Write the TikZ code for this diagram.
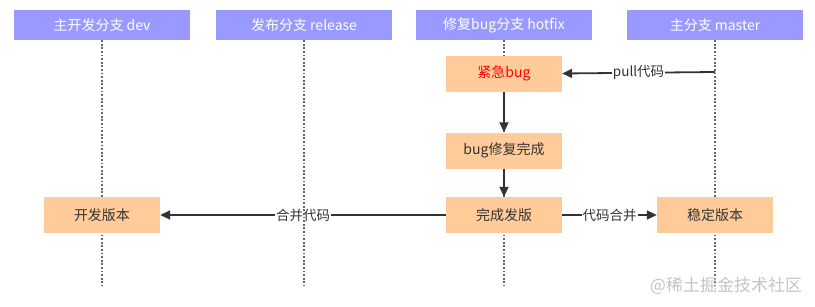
\documentclass[tikz,border=0pt]{standalone}
\usepackage{fontspec}
\setmainfont{Noto Sans CJK SC}
\usetikzlibrary{arrows.meta}
\definecolor{headc}{HTML}{9999FF}
\definecolor{boxc}{HTML}{FFCC99}
\definecolor{ink}{HTML}{333333}
\definecolor{lifec}{HTML}{666666}
\definecolor{wmark}{HTML}{C4C4C4}
\begin{document}
\begin{tikzpicture}[x=1pt,y=-1pt,
  header/.style={fill=headc,text=white,minimum width=176pt,minimum height=30pt,inner sep=0pt,font=\fontsize{14}{16}\selectfont},
  stepbox/.style={fill=boxc,text=ink,minimum width=116pt,minimum height=36pt,inner sep=0pt,font=\fontsize{14}{16}\selectfont},
  lifeline/.style={lifec,line width=1.5pt,dash pattern=on 1.8pt off 1.8pt},
  conn/.style={ink,line width=1.8pt,-{Triangle[length=10pt,width=9pt]}},
  lbl/.style={fill=white,text=ink,inner sep=1pt,font=\fontsize{13.5}{15}\selectfont}
]
\useasboundingbox (0,0) rectangle (815,306);
\node[header] (hdev) at (102,25) {主开发分支 dev};
\node[header] (hrel) at (304,25) {发布分支 release};
\node[header] (hfix) at (504,25) {修复bug分支 hotfix};
\node[header] (hmas) at (715,25) {主分支 master};
\coordinate (edev) at (102,286);
\coordinate (erel) at (304,286);
\coordinate (efix) at (504,286);
\coordinate (emas) at (715,286);
\coordinate (pullsrc) at (715,72);
\draw[lifeline] (hdev.south) -- (edev);
\draw[lifeline] (hfix.south) -- (efix);
\draw[lifeline] (hmas.south) -- (emas);
\node[stepbox,text=red] (bug) at (504,73.5) {紧急bug};
\node[stepbox] (fixed) at (504,150.5) {bug修复完成};
\node[stepbox] (release) at (504,215) {完成发版};
\node[stepbox] (devver) at (102,215) {开发版本};
\node[stepbox] (stable) at (715,215) {稳定版本};
\draw[conn] (pullsrc) -- node[lbl] {pull代码} (bug.east);
\draw[conn] (bug) -- (fixed);
\draw[conn] (fixed) -- (release);
\draw[conn] (release) -- node[lbl] {合并代码} (devver);
\draw[conn] (release) -- node[lbl] {代码合并} (stable);
\draw[lifeline] (hrel.south) -- (erel);
\node[text=wmark,font=\fontsize{17}{19}\selectfont,inner sep=0pt] (wm) at (726,286) {@稀土掘金技术社区};
\end{tikzpicture}
\end{document}
